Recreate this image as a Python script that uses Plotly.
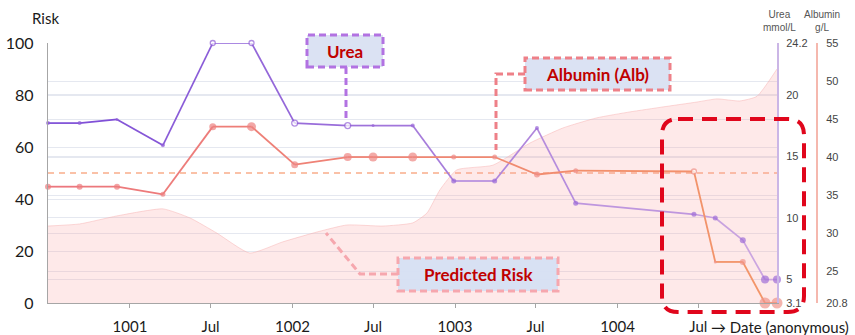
from datetime import date
import plotly.graph_objects as go

# ---- data -------------------------------------------------------------
visit_dates = ["1000-07-01", "1000-09-10", "1000-12-03", "1001-03-16", "1001-07-06",
               "1001-10-01", "1002-01-06", "1002-05-05", "1002-07-01", "1002-09-28",
               "1002-12-29", "1003-03-31", "1003-07-04", "1003-09-29", "1004-06-21",
               "1004-08-08", "1004-10-09", "1004-11-28", "1004-12-25"]
urea_mmol = [17.7, 17.7, 18.0, 15.9, 24.2, 24.2, 17.7, 17.5, 17.5, 17.5,
             13.0, 13.0, 17.3, 11.2, 10.3, 10.0, 8.2, 5.0, 5.0]
albumin_gl = [36.1, 36.1, 36.1, 35.1, 44.0, 44.0, 39.0, 40.0, 40.0, 40.0,
              40.0, 40.0, 37.7, 38.2, 38.1, 26.2, 26.2, 20.8, 20.8]

risk_dates = ["1000-07-01", "1000-09-10", "1000-12-03", "1001-03-16", "1001-05-16",
              "1001-07-15", "1001-09-27", "1001-12-10", "1002-02-25", "1002-05-03",
              "1002-07-23", "1002-09-28", "1002-10-30", "1002-11-28", "1003-01-05",
              "1003-03-27", "1003-06-18", "1003-08-31", "1003-11-15", "1004-01-29",
              "1004-04-12", "1004-06-28", "1004-08-12", "1004-10-02", "1004-11-10",
              "1004-12-25"]
risk_pct = [29.6, 30.4, 33.5, 36.2, 32.7, 26.9, 19.2, 23.5, 27.3, 30.0,
            29.6, 30.8, 34.6, 43.5, 51.2, 53.0, 61.5, 67.3, 71.2, 73.5,
            75.4, 77.3, 78.5, 77.7, 79.5, 90.0]
risk_threshold = 50

x_tick_dates = ["1001-01-01", "1001-07-01", "1002-01-01", "1002-07-01",
                "1003-01-01", "1003-07-01", "1004-01-01", "1004-07-01"]
x_tick_text = ["1001", "Jul", "1002", "Jul", "1003", "Jul", "1004", "Jul"]
risk_ticks = [0, 20, 40, 60, 80, 100]
urea_ticks = [3.1, 5, 10, 15, 20, 24.2]
albumin_ticks = [20.8, 25, 30, 35, 40, 45, 50, 55]

# ---- marker styling per visit ------------------------------------------
urea_marker_size = [4, 4, 3, 4, 5, 5, 6, 6, 3, 4, 5, 5, 4, 5, 5, 5, 6, 8, 8]
urea_marker_open = [0, 0, 0, 0, 1, 1, 1, 1, 0, 0, 0, 0, 0, 0, 0, 0, 0, 0, 0]
alb_marker_size = [6, 6, 6, 5, 7, 9, 7, 8, 9, 9, 5, 5, 6, 5, 5, 3, 6, 11, 11]
alb_marker_open = [0, 0, 0, 0, 0, 0, 0, 0, 0, 0, 0, 0, 0, 0, 1, 0, 0, 0, 0]


def to_year(s):
    d = date.fromisoformat(s)
    start = date(d.year, 1, 1)
    length = (date(d.year + 1, 1, 1) - start).days
    return d.year + (d - start).days / length


def mix(c0, c1, t):
    return "rgb(%d,%d,%d)" % tuple(round(a + (b - a) * t) for a, b in zip(c0, c1))


vx = [to_year(s) for s in visit_dates]
rx = [to_year(s) for s in risk_dates]
tx = [to_year(s) for s in x_tick_dates]
x_lo, x_hi = vx[0], vx[-1]

FONT = "Lato, 'Liberation Sans', sans-serif"
SMALL = "'Liberation Sans', Arial, sans-serif"

fig = go.Figure()

# predicted risk area
fig.add_trace(go.Scatter(
    x=rx, y=risk_pct, mode="lines", fill="tozeroy",
    fillcolor="rgba(250,165,165,0.24)",
    line=dict(color="rgba(246,170,170,0.45)", width=1, shape="spline", smoothing=0.5),
    yaxis="y", hoverinfo="skip"))


def gradient_line(xs, ys, c0, c1, width, axis):
    for i in range(len(xs) - 1):
        t = ((xs[i] + xs[i + 1]) / 2 - x_lo) / (x_hi - x_lo)
        fig.add_trace(go.Scatter(
            x=xs[i:i + 2], y=ys[i:i + 2], mode="lines",
            line=dict(color=mix(c0, c1, t), width=width),
            yaxis=axis, hoverinfo="skip", cliponaxis=False))


def markers(xs, ys, sizes, opens, c0, c1, axis):
    cols = [mix(c0, c1, (x - x_lo) / (x_hi - x_lo)) for x in xs]
    fig.add_trace(go.Scatter(
        x=xs, y=ys, mode="markers", yaxis=axis, cliponaxis=False,
        marker=dict(size=sizes,
                    color=["white" if o else c for o, c in zip(opens, cols)],
                    line=dict(color=cols, width=[1.3 if o else 0 for o in opens])),
        hoverinfo="skip"))


# urea (right axis 1)
gradient_line(vx, urea_mmol, (122, 74, 214), (206, 168, 224), 1.7, "y2")
markers(vx, urea_mmol, urea_marker_size, urea_marker_open, (140, 90, 215), (160, 110, 215), "y2")

# albumin (right axis 2)
gradient_line(vx, albumin_gl, (236, 118, 126), (243, 150, 104), 1.8, "y3")
markers(vx, albumin_gl, alb_marker_size, alb_marker_open, (236, 122, 124), (240, 148, 138), "y3")

# ---- layout helpers (pixel -> paper) -----------------------------------
W, H = 855, 335
ML, MR, MT, MB = 48, 38, 43, 32
PW, PH = W - ML - MR, H - MT - MB
PLOT_RIGHT = 777


def px(x):
    return (x - ML) / PW


def py(y):
    return (H - MB - y) / PH


shapes = []

# risk threshold
shapes.append(dict(type="line", xref="x domain", yref="y", x0=0, x1=1,
                   y0=risk_threshold, y1=risk_threshold, layer="below",
                   line=dict(color="#f9ad8a", width=1.5, dash="6px,5px")))


def dashed_box(x0, y0, x1, y1, color, fill):
    shapes.append(dict(type="rect", xref="paper", yref="paper",
                       x0=px(x0), x1=px(x1), y0=py(y1), y1=py(y0),
                       fillcolor=fill, layer="above",
                       line=dict(color=color, width=3, dash="7px,4px")))


def dashed_path(points, color):
    d = "M " + " L ".join("%f,%f" % (px(a), py(b)) for a, b in points)
    shapes.append(dict(type="path", xref="paper", yref="paper", path=d, layer="above",
                       line=dict(color=color, width=3, dash="7px,4px")))


# callout connectors
dashed_path([(346, 67), (346, 118)], "#b272e2")
dashed_path([(525, 74), (496, 74), (496, 150)], "#ee8088")
dashed_path([(398, 274), (360, 274), (326, 233)], "#f6a7ae")

dashed_box(307, 35, 383, 67, "#b272e2", "#dbe2f3")
dashed_box(525, 58, 670, 90, "#ee8088", "#dbe2f3")
dashed_box(398, 258, 558, 291, "#f6a7ae", "rgba(214,224,243,0.95)")

# highlighted recent period (rounded dashed frame)
bx0, by0, bx1, by1, r = 662, 119, 804, 312, 16
rx_, ry_ = r / PW, r / PH
X0, X1, Y0, Y1 = px(bx0), px(bx1), py(by0), py(by1)
frame = (f"M {X0 + rx_},{Y0} L {X1 - rx_},{Y0} Q {X1},{Y0} {X1},{Y0 - ry_} "
         f"L {X1},{Y1 + ry_} Q {X1},{Y1} {X1 - rx_},{Y1} "
         f"L {X0 + rx_},{Y1} Q {X0},{Y1} {X0},{Y1 + ry_} "
         f"L {X0},{Y0 - ry_} Q {X0},{Y0} {X0 + rx_},{Y0}")
shapes.append(dict(type="path", xref="paper", yref="paper", path=frame, layer="above",
                   line=dict(color="#e0061c", width=4, dash="15px,9px")))

annotations = []


def label(x, y, text, size, color, font=FONT, xanchor="center"):
    annotations.append(dict(xref="paper", yref="paper", x=px(x), y=py(y), text=text,
                            showarrow=False, xanchor=xanchor, yanchor="middle",
                            font=dict(family=font, size=size, color=color)))


label(345, 51, "<b>Urea</b>", 17, "#c00000")
label(597, 74, "<b>Albumin (Alb)</b>", 17, "#c00000")
label(478, 274, "<b>Predicted Risk</b>", 17, "#c00000")
label(45, 18, "Risk", 15, "#1a1a1a")
label(779, 21, "Urea<br>mmol/L", 10, "#555555", SMALL)
label(822, 21, "Albumin<br>g/L", 10, "#555555", SMALL)
label(709, 327, "→ Date (anonymous)", 15, "#1a1a1a", xanchor="left")

GRID = "#e5e8f0"

fig.update_layout(
    width=W, height=H, template="none",
    margin=dict(l=ML, r=MR, t=MT, b=MB, pad=0),
    paper_bgcolor="white", plot_bgcolor="white", showlegend=False,
    font=dict(family=FONT),
    shapes=shapes, annotations=annotations,
    xaxis=dict(domain=[0, (PLOT_RIGHT - ML) / PW], range=[x_lo, x_hi],
               tickmode="array", tickvals=tx, ticktext=x_tick_text,
               ticks="outside", ticklen=4, tickcolor="#a6a6a6", tickwidth=1,
               showline=True, linecolor="#a6a6a6", linewidth=1.3,
               showgrid=False, zeroline=False, automargin=False,
               tickfont=dict(family=FONT, size=15, color="#1a1a1a"),
               ticklabelstandoff=6),
    yaxis=dict(range=[0, 100], tickmode="array", tickvals=risk_ticks,
               showline=True, linecolor="#a6a6a6", linewidth=1.3,
               gridcolor=GRID, gridwidth=1, zeroline=False, automargin=False,
               ticks="", tickfont=dict(family=FONT, size=16, color="#1a1a1a"),
               ticklabelstandoff=10),
    yaxis2=dict(overlaying="y", side="right", anchor="x", range=[urea_ticks[0], urea_ticks[-1]],
                tickmode="array", tickvals=urea_ticks, ticktext=[f"{v:g}" for v in urea_ticks],
                showline=True, linecolor="#cbb6e6", linewidth=2,
                gridcolor=GRID, gridwidth=1, zeroline=False, automargin=False, ticks="",
                tickfont=dict(family=SMALL, size=11, color="#444444"),
                ticklabelstandoff=5),
    yaxis3=dict(overlaying="y", side="right", anchor="free", position=1.0,
                range=[albumin_ticks[0], albumin_ticks[-1]],
                tickmode="array", tickvals=albumin_ticks,
                ticktext=[f"{v:g}" for v in albumin_ticks],
                showline=True, linecolor="#f5b8ae", linewidth=2,
                gridcolor=GRID, gridwidth=1, zeroline=False, automargin=False, ticks="",
                tickfont=dict(family=SMALL, size=11, color="#444444"),
                ticklabelstandoff=6),
)

fig.write_html("out.html")
